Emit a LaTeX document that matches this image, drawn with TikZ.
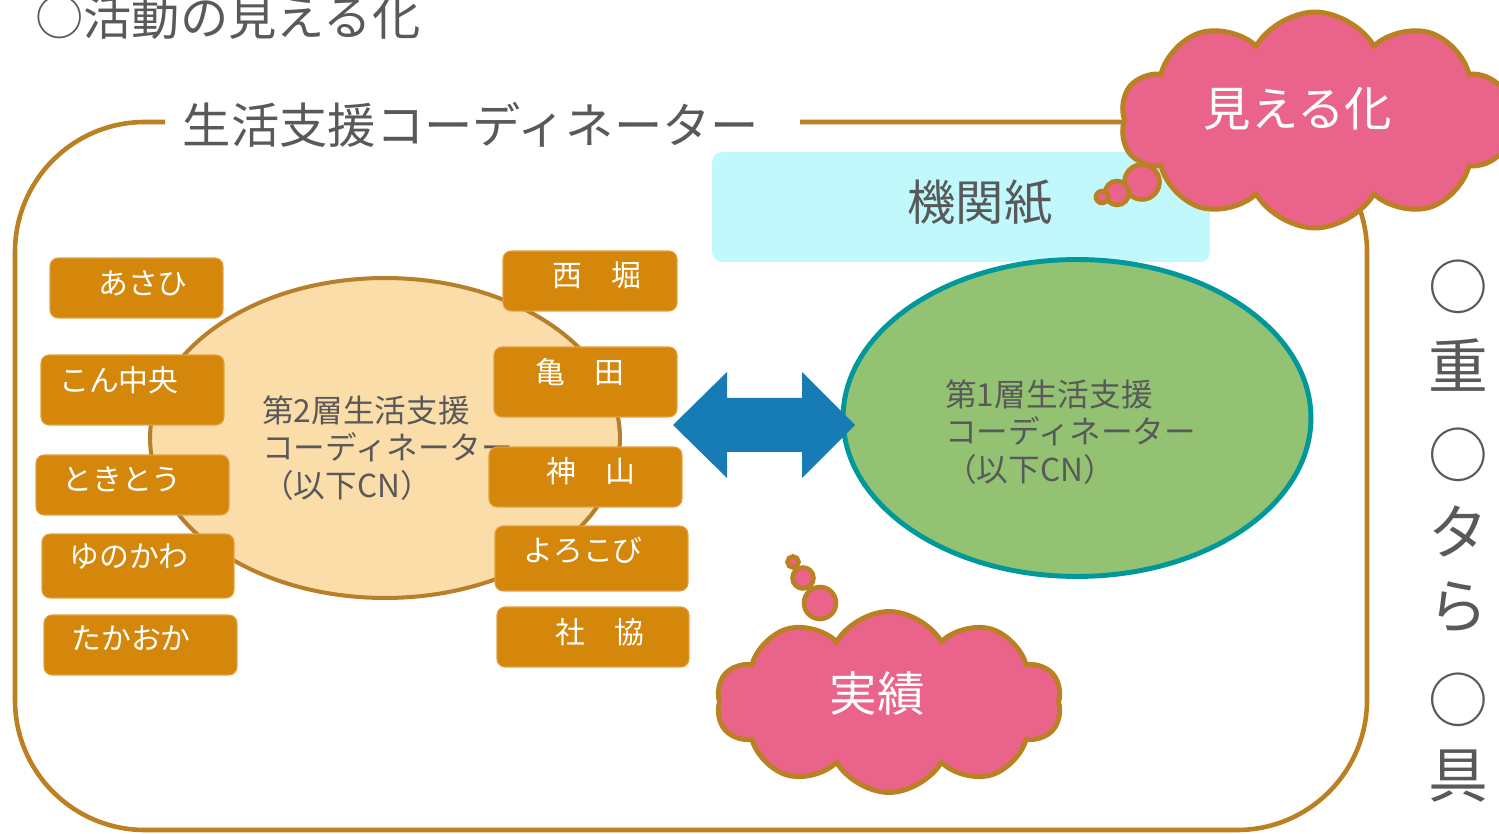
\documentclass[tikz,border=0pt]{standalone}
\usepackage{fontspec}
\setmainfont{Noto Sans CJK JP}
\usetikzlibrary{shapes.symbols,shapes.geometric}
\definecolor{frame}{RGB}{186,128,34}
\definecolor{boxor}{RGB}{212,135,10}
\definecolor{boxedge}{RGB}{226,160,60}
\definecolor{beige}{RGB}{251,221,170}
\definecolor{beigeedge}{RGB}{184,127,42}
\definecolor{leaf}{RGB}{147,194,115}
\definecolor{teal2}{RGB}{0,152,155}
\definecolor{cyanbg}{RGB}{192,248,252}
\definecolor{pinkc}{RGB}{233,99,138}
\definecolor{bluea}{RGB}{23,124,181}
\definecolor{txt}{RGB}{89,89,89}
\tikzset{
  obox/.style={fill=boxor,draw=boxedge,line width=0.6pt,rounded corners=0.16cm,inner sep=0pt},
  otext/.style={text=white,font=\fontsize{17}{20}\selectfont,inner sep=0pt},
  bigtext/.style={text=txt,font=\fontsize{27.5}{32}\selectfont,inner sep=0pt},
  elltext/.style={text=txt,font=\fontsize{18}{21.5}\selectfont,align=left,inner sep=0pt,anchor=west},
  sidetext/.style={text=txt,font=\fontsize{34}{40}\selectfont,inner sep=0pt,anchor=west},
  cloudshape/.style={cloud,cloud puffs=10,cloud puff arc=120,fill=pinkc,draw=frame,line width=2.8pt,inner sep=0pt},
  bubble/.style={circle,fill=pinkc,draw=frame,line width=2.6pt,inner sep=0pt},
  cloudtext/.style={text=white,font=\fontsize{27}{32}\selectfont,inner sep=0pt}
}
\begin{document}
\begin{tikzpicture}[x=0.02cm,y=-0.02cm]
\useasboundingbox (0,0) rectangle (1499,834);
\clip (0,0) rectangle (1499,834);
\fill[white] (0,0) rectangle (1499,834);
% title
\node[bigtext,anchor=west] (title) at (35,17) {○活動の見える化};
% frame
\draw[frame,line width=2.6pt,rounded corners=2.6cm] (165,122) -- (15,122) -- (15,830) -- (1367,830) -- (1367,122) -- (800,122);
\node[bigtext] (framelabel) at (471,125) {生活支援コーディネーター};
% newsletter
\node[fill=cyanbg,rounded corners=0.2cm,minimum width=9.96cm,minimum height=2.2cm,inner sep=0pt] (kikan) at (961,207) {};
\node[bigtext] (kikantext) at (980,203) {機関紙};
% second layer
\node[ellipse,fill=beige,draw=beigeedge,line width=2.3pt,minimum width=9.4cm,minimum height=6.4cm,inner sep=0pt] (second) at (385,438) {};
\node[elltext] (secondtext) at (262,448) {第2層生活支援\\コーディネーター\\（以下CN）};
% boxes left
\node[obox,minimum width=3.46cm,minimum height=1.2cm] (asahi) at (136.5,288) {};
\node[otext] (asahit) at (143,283) {あさひ};
\node[obox,minimum width=3.66cm,minimum height=1.4cm] (kon) at (132.5,390) {};
\node[otext] (kont) at (119,380) {こん中央};
\node[obox,minimum width=3.86cm,minimum height=1.2cm] (toki) at (132.5,485) {};
\node[otext] (tokit) at (122,479) {ときとう};
\node[obox,minimum width=3.84cm,minimum height=1.28cm] (yuno) at (138,566) {};
\node[otext] (yunot) at (129,557) {ゆのかわ};
\node[obox,minimum width=3.86cm,minimum height=1.2cm] (taka) at (140.5,645) {};
\node[otext] (takat) at (131,638) {たかおか};
% boxes right
\node[obox,minimum width=3.48cm,minimum height=1.2cm] (nishi) at (590,281) {};
\node[otext] (nishit) at (597,275) {西　堀};
\node[obox,minimum width=3.66cm,minimum height=1.4cm] (kame) at (585.5,382) {};
\node[otext] (kamet) at (580,372) {亀　田};
\node[obox,minimum width=3.86cm,minimum height=1.2cm] (kami) at (585.5,477) {};
\node[otext] (kamit) at (591,471) {神　山};
\node[obox,minimum width=3.86cm,minimum height=1.3cm] (yoro) at (591.5,558.5) {};
\node[otext] (yorot) at (583,550) {よろこび};
\node[obox,minimum width=3.84cm,minimum height=1.2cm] (sha) at (593,637) {};
\node[otext] (shat) at (600,632) {社　協};
% first layer
\node[ellipse,fill=leaf,draw=teal2,line width=2.8pt,minimum width=9.36cm,minimum height=6.34cm,inner sep=0pt] (first) at (1077,418) {};
\node[elltext] (firsttext) at (945,432) {第1層生活支援\\コーディネーター\\（以下CN）};
% double arrow
\fill[bluea] (673,425) -- (727,372) -- (727,398) -- (802,398) -- (802,372) -- (855,425) -- (802,478) -- (802,452) -- (727,452) -- (727,478) -- cycle;
% bottom cloud
\node[cloudshape,aspect=1.9,minimum width=6.9cm,minimum height=3.62cm] (jisseki) at (889,702) {};
\node[cloudtext] (jissekit) at (877,694) {実績};
\node[bubble,minimum size=0.64cm] (jb1) at (820,603) {};
\node[bubble,minimum size=0.42cm] (jb2) at (803,578) {};
\node[bubble,minimum size=0.22cm] (jb3) at (793,562) {};
% top cloud
\node[cloudshape,aspect=1.8,minimum width=7.8cm,minimum height=4.32cm] (mieru) at (1315,120) {};
\node[cloudtext] (mierut) at (1298,109) {見える化};
\node[bubble,minimum size=0.7cm] (mb1) at (1142,182) {};
\node[bubble,minimum size=0.48cm] (mb2) at (1117,193) {};
\node[bubble,minimum size=0.24cm] (mb3) at (1102,197) {};
% right column (cut off)
\node[sidetext] (r1) at (1428,287) {○};
\node[sidetext] (r2) at (1428,365) {重};
\node[sidetext] (r3) at (1428,455) {○};
\node[sidetext] (r4) at (1428,532) {タ};
\node[sidetext] (r5) at (1428,607) {ら};
\node[sidetext] (r6) at (1428,700) {○};
\node[sidetext] (r7) at (1428,776) {具};
\end{tikzpicture}
\end{document}
